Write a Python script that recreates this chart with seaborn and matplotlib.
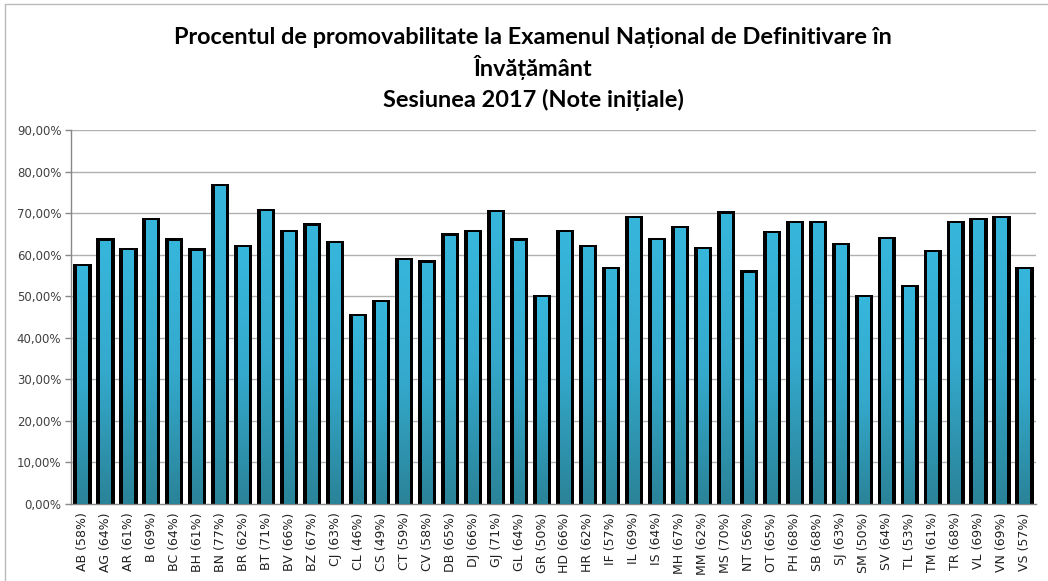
import numpy as np
import pandas as pd
import matplotlib
matplotlib.use("Agg")
import matplotlib.pyplot as plt
import seaborn as sns
from matplotlib.colors import LinearSegmentedColormap
from matplotlib.lines import Line2D

counties = ["AB", "AG", "AR", "B", "BC", "BH", "BN", "BR", "BT", "BV", "BZ", "CJ", "CL", "CS",
            "CT", "CV", "DB", "DJ", "GJ", "GL", "GR", "HD", "HR", "IF", "IL", "IS", "MH", "MM",
            "MS", "NT", "OT", "PH", "SB", "SJ", "SM", "SV", "TL", "TM", "TR", "VL", "VN", "VS"]
label_pct = [58, 64, 61, 69, 64, 61, 77, 62, 71, 66, 67, 63, 46, 49,
             59, 58, 65, 66, 71, 64, 50, 66, 62, 57, 69, 64, 67, 62,
             70, 56, 65, 68, 68, 63, 50, 64, 53, 61, 68, 69, 69, 57]
values = [57.8, 63.9, 61.7, 68.9, 63.9, 61.5, 77.1, 62.4, 71.1, 66.0, 67.5, 63.2, 45.8, 49.2,
          59.3, 58.6, 65.1, 66.0, 70.8, 63.9, 50.2, 65.9, 62.4, 57.0, 69.4, 64.1, 66.9, 61.9,
          70.4, 56.2, 65.6, 68.2, 68.2, 62.8, 50.2, 64.3, 52.8, 61.2, 68.0, 68.8, 69.4, 57.0]
yticks = [0, 10, 20, 30, 40, 50, 60, 70, 80, 90]
title_lines = ["Procentul de promovabilitate la Examenul Național de Definitivare în",
               "Învățământ",
               "Sesiunea 2017 (Note inițiale)"]

labels = [f"{c} ({p}%)" for c, p in zip(counties, label_pct)]
df = pd.DataFrame({"label": labels, "value": [v / 100 for v in values]})

sns.set_theme(style="white")
plt.rcParams["font.family"] = ["DejaVu Sans"]

fig = plt.figure(figsize=(10.48, 5.81), dpi=100)
W, H = 1048, 581
ax = fig.add_axes([71 / W, 1 - 504 / H, (1036 - 71) / W, (504 - 130) / H])

# gridlines behind
for t in yticks[1:]:
    ax.axhline(t / 100, color="#b0b0b0", lw=1.0, zorder=0)

# black shadow bars
sns.barplot(data=df, x="label", y="value", color="black", width=0.79,
            saturation=1, ax=ax, zorder=2, linewidth=0)
n_black = len(ax.patches)
# cyan bars on top
sns.barplot(data=df, x="label", y="value", color="#35b3d8", width=0.45,
            saturation=1, ax=ax, zorder=3, linewidth=0)

cmap = LinearSegmentedColormap.from_list("g", ["#2a8398", "#34a9cc", "#37b6dc"])
grad = np.linspace(0, 1, 256).reshape(-1, 1)
for p in ax.patches[n_black:]:
    h = p.get_height()
    p.set_height(h - 0.005)
    x0 = p.get_x()
    w = p.get_width()
    im = ax.imshow(grad, extent=[x0, x0 + w, 0, h - 0.005], origin="lower",
                   cmap=cmap, aspect="auto", zorder=4, vmin=0, vmax=1)
    im.set_clip_path(p)

ax.set_xlim(-0.5, len(labels) - 0.5)
ax.set_ylim(0, 0.9)
ax.set_yticks([t / 100 for t in yticks])
ax.set_yticklabels([f"{t},00%" for t in yticks], fontsize=8.5, color="#404040")
ax.set_xlabel("")
ax.set_ylabel("")
ax.tick_params(axis="x", rotation=90, labelsize=9, length=0, pad=6)
ax.tick_params(axis="y", length=4, width=1, color="#888888", left=True, pad=3)
for lbl in ax.get_xticklabels():
    lbl.set_color("#202020")
for s in ["top", "right"]:
    ax.spines[s].set_visible(False)
ax.spines["left"].set_color("#888888")
ax.spines["bottom"].set_color("#888888")
ax.spines["left"].set_linewidth(1)
ax.spines["bottom"].set_linewidth(1)

# title
ys = [37, 68, 100]
for line, y in zip(title_lines, ys):
    fig.text(533 / W, 1 - y / H, line, ha="center", va="center", fontsize=16.9,
             fontweight="bold", family=["Lato", "DejaVu Sans"], color="black")

# outer chart frame (left & top visible)
fig.add_artist(Line2D([5 / W, 5 / W], [0, 1 - 4 / H], color="#bbbbbb", lw=1, transform=fig.transFigure))
fig.add_artist(Line2D([5 / W, 1], [1 - 4 / H, 1 - 4 / H], color="#bbbbbb", lw=1, transform=fig.transFigure))

fig.savefig("out.png", dpi=100)
